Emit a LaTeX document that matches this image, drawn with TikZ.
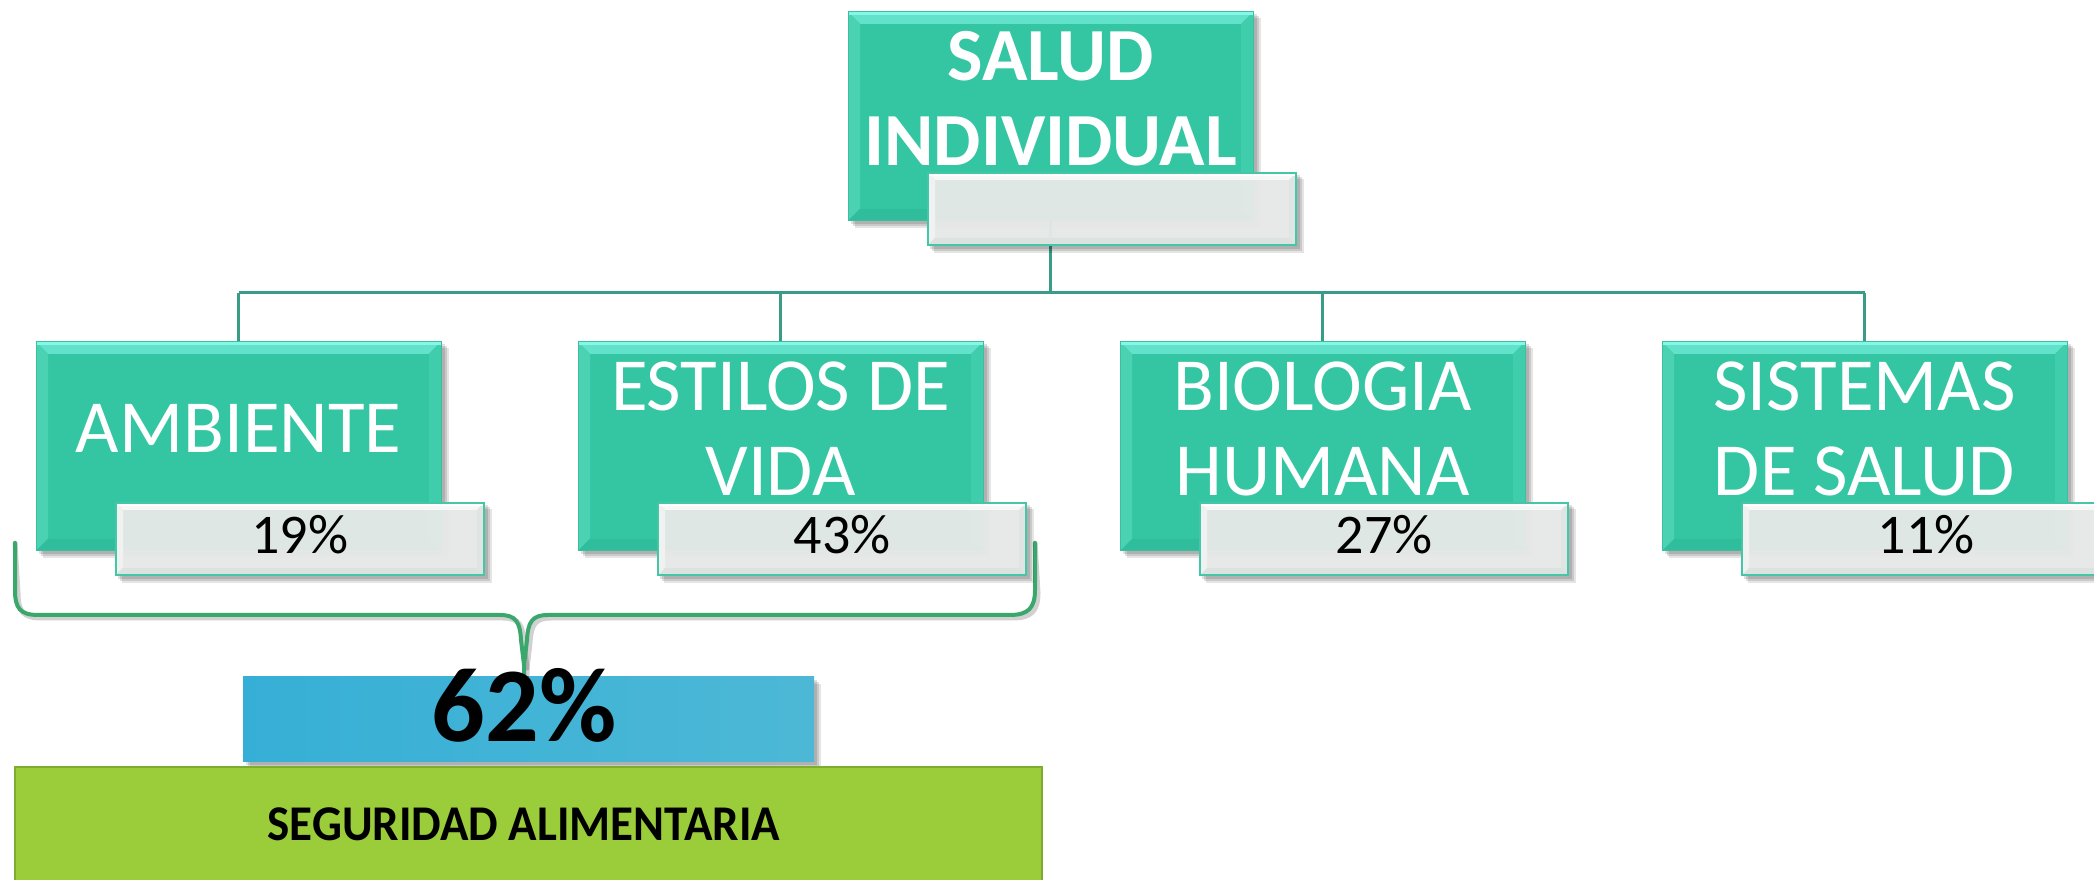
\documentclass[tikz,border=0pt]{standalone}
\usepackage{fontspec}
\usepackage{graphicx}
\setmainfont{Carlito}
\usetikzlibrary{calc}
\pgfdeclarelayer{bg}
\pgfdeclarelayer{shA}
\pgfdeclarelayer{shB}
\pgfdeclarelayer{lbl}
\pgfsetlayers{bg,shA,main,shB,lbl}
\definecolor{tealfill}{HTML}{34C6A2}
\definecolor{tealtop}{HTML}{62E2CB}
\definecolor{tealhi}{HTML}{86F6E6}
\definecolor{tealleft}{HTML}{4AD2B3}
\definecolor{tealright}{HTML}{40CDAB}
\definecolor{tealbot}{HTML}{30BD9B}
\definecolor{tealedge}{HTML}{3DBE9E}
\definecolor{lblfill}{HTML}{EAEDEC}
\definecolor{lbltop}{HTML}{F8FAF9}
\definecolor{lblhi}{HTML}{FFFFFF}
\definecolor{lblleft}{HTML}{F0F3F2}
\definecolor{lblright}{HTML}{E0E5E3}
\definecolor{lblbot}{HTML}{DCE2E0}
\definecolor{lbledge}{HTML}{45C7A7}
\definecolor{connc}{HTML}{3A9B86}
\definecolor{bracec}{HTML}{3AA86D}
\definecolor{blueL}{HTML}{36AFD6}
\definecolor{blueR}{HTML}{4DB8D6}
\definecolor{greenc}{HTML}{9BCC3A}
\definecolor{greenedge}{HTML}{7DAC2E}
\newcommand{\bevelfill}[6]{%
 \fill[#2] (path picture bounding box.north west) -- (path picture bounding box.north east) -- ([shift={(-#1,-#1)}]path picture bounding box.north east) -- ([shift={(#1,-#1)}]path picture bounding box.north west) -- cycle;
 \fill[#3] (path picture bounding box.north west) -- ([shift={(#1,-#1)}]path picture bounding box.north west) -- ([shift={(#1,#1)}]path picture bounding box.south west) -- (path picture bounding box.south west) -- cycle;
 \fill[#4] (path picture bounding box.north east) -- ([shift={(-#1,-#1)}]path picture bounding box.north east) -- ([shift={(-#1,#1)}]path picture bounding box.south east) -- (path picture bounding box.south east) -- cycle;
 \fill[#5] (path picture bounding box.south west) -- ([shift={(#1,#1)}]path picture bounding box.south west) -- ([shift={(-#1,#1)}]path picture bounding box.south east) -- (path picture bounding box.south east) -- cycle;
 \fill[#6] (path picture bounding box.north west) rectangle ([yshift=-3pt]path picture bounding box.north east);
}
\newcommand{\softshadow}[1]{%
 \foreach \s/\o in {3/0.12,5/0.12,7/0.10}{%
  \fill[black,opacity=\o] ([shift={(\s,-\s)}]#1.south west) rectangle ([shift={(\s,-\s)}]#1.north east);}%
}
\begin{document}
\begin{tikzpicture}[x=1pt,y=1pt,
  tealbox/.style={rectangle, fill=tealfill, draw=tealedge, line width=1pt,
    minimum width=405pt, minimum height=209pt, inner sep=0pt,
    path picture={\bevelfill{12pt}{tealtop}{tealleft}{tealright}{tealbot}{tealhi}}},
  lblbox/.style={rectangle, fill=lblfill, fill opacity=0.95, draw=lbledge, line width=1.5pt,
    minimum width=368pt, minimum height=72pt, inner sep=0pt,
    path picture={\bevelfill{7pt}{lbltop}{lblleft}{lblright}{lblbot}{lblhi}}},
  boxtext/.style={text=white, align=center, inner sep=0pt,
    font=\fontsize{75pt}{85pt}\selectfont},
  pcttext/.style={text=black, inner sep=0pt, anchor=base,
    font=\fontsize{56pt}{64pt}\selectfont},
  conn/.style={draw=connc, line width=3pt},
  bracestyle/.style={draw=bracec, line width=4pt, line join=round, line cap=round},
  braceshadow/.style={draw=black, opacity=0.18, line width=5pt, line join=round, line cap=round}
]
\useasboundingbox (0,0) rectangle (2094,880);

% main boxes
\node[tealbox] (top) at (1050.5,763.5) {};
\node[tealbox] (c1) at (238.5,433.5) {};
\node[tealbox] (c2) at (780.5,433.5) {};
\node[tealbox] (c3) at (1322.5,433.5) {};
\node[tealbox] (c4) at (1864.5,433.5) {};

\node[boxtext, font=\fontsize{75pt}{85pt}\selectfont\bfseries] (ttop) at ([yshift=18pt]top.center) {SALUD\\INDIVIDUAL};
\node[boxtext] (t1) at ([yshift=18pt]c1.center) {AMBIENTE};
\node[boxtext] (t2) at ([yshift=18pt]c2.center) {ESTILOS DE\\VIDA};
\node[boxtext] (t3) at ([yshift=18pt]c3.center) {BIOLOGIA\\HUMANA};
\node[boxtext] (t4) at ([yshift=18pt]c4.center) {SISTEMAS\\DE SALUD};

% bottom boxes
\node[rectangle, left color=blueL, right color=blueR, minimum width=571pt, minimum height=85pt, inner sep=0pt] (blue) at (528.5,160.5) {};
\node[rectangle, fill=greenc, draw=greenedge, line width=1.5pt, minimum width=1027pt, minimum height=150pt, inner sep=0pt] (green) at (528.5,38) {};
\node[anchor=base, inner sep=0pt, font=\fontsize{50pt}{60pt}\selectfont\bfseries] (gtext) at ([xshift=-4.5pt,yshift=-74pt]green.north) {\scalebox{0.94}[1]{SEGURIDAD ALIMENTARIA}};

% brace
\coordinate (bL) at (15,337);
\coordinate (bR) at (1035,337);
\coordinate (bT) at ([xshift=-4.5pt]blue.north);
\draw[braceshadow, shift={(3,-3)}] (bL) -- (15,290) .. controls (15,272) and (20,265) .. (38,265) -- (500,265) .. controls (516,265) and (520,258) .. (521,240) -- (524,215) -- (524,208);
\draw[braceshadow, shift={(3,-3)}] (524,215) -- (527,240) .. controls (528,258) and (532,265) .. (548,265) -- (1010,265) .. controls (1028,265) and (1035,272) .. (1035,290) -- (bR);
\draw[bracestyle] (bL) -- (15,290) .. controls (15,272) and (20,265) .. (38,265) -- (500,265) .. controls (516,265) and (520,258) .. (521,240) -- (524,215) -- (bT);
\draw[bracestyle] (524,215) -- (527,240) .. controls (528,258) and (532,265) .. (548,265) -- (1010,265) .. controls (1028,265) and (1035,272) .. (1035,290) -- (bR);

\node[anchor=base, inner sep=0pt, font=\fontsize{106pt}{116pt}\selectfont\bfseries] (big) at ([xshift=-4.5pt,yshift=-22.5pt]blue.center) {62\%};

% labels
\begin{pgfonlayer}{lbl}
\node[lblbox] (l0) at ([xshift=61.5pt,yshift=-92.5pt]top.center) {};
\node[lblbox] (l1) at ([xshift=61.5pt,yshift=-92.5pt]c1.center) {};
\node[lblbox] (l2) at ([xshift=61.5pt,yshift=-92.5pt]c2.center) {};
\node[lblbox] (l3) at ([xshift=61.5pt,yshift=-92.5pt]c3.center) {};
\node[lblbox] (l4) at ([xshift=61.5pt,yshift=-92.5pt]c4.center) {};
\node[pcttext] (p1) at ([yshift=22pt]l1.south) {19\%};
\node[pcttext] (p2) at ([yshift=22pt]l2.south) {43\%};
\node[pcttext] (p3) at ([yshift=22pt]l3.south) {27\%};
\node[pcttext] (p4) at ([yshift=22pt]l4.south) {11\%};
\end{pgfonlayer}

% shadows
\begin{pgfonlayer}{shA}
\softshadow{top}\softshadow{c1}\softshadow{c2}\softshadow{c3}\softshadow{c4}
\softshadow{blue}
\end{pgfonlayer}
\begin{pgfonlayer}{shB}
\softshadow{l0}\softshadow{l1}\softshadow{l2}\softshadow{l3}\softshadow{l4}
\end{pgfonlayer}

% background and connectors
\begin{pgfonlayer}{bg}
\fill[white] (0,0) rectangle (2094,880);
\coordinate (bus) at (0,587);
\draw[conn] (top.south) -- (top.south |- bus);
\draw[conn] (c1.north |- bus) -- (c4.north |- bus);
\foreach \i in {1,...,4} {\draw[conn] (c\i.north |- bus) -- (c\i.north);}
\end{pgfonlayer}
\end{tikzpicture}
\end{document}
